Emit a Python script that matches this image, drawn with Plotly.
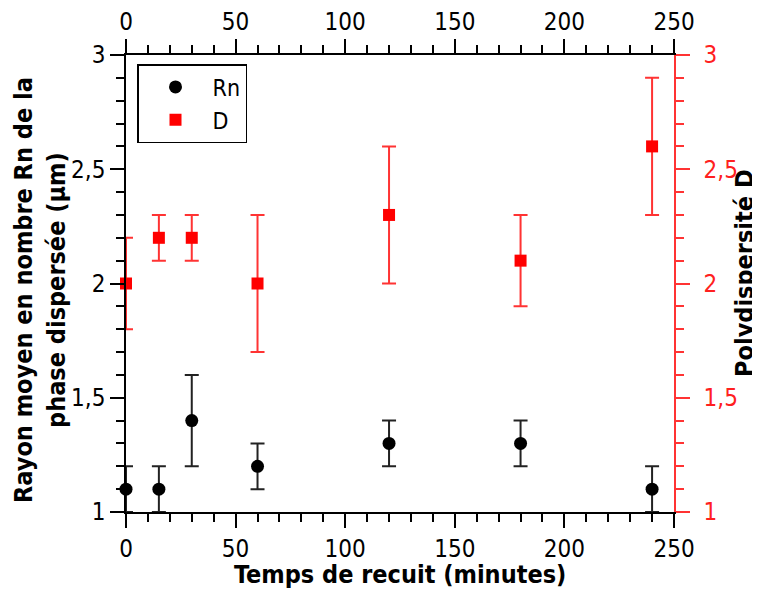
import plotly.graph_objects as go

temps = [0, 15, 30, 60, 120, 180, 240]
rn = [1.1, 1.1, 1.4, 1.2, 1.3, 1.3, 1.1]
rn_err = [0.1, 0.1, 0.2, 0.1, 0.1, 0.1, 0.1]
d = [2.0, 2.2, 2.2, 2.0, 2.3, 2.1, 2.6]
d_err = [0.2, 0.1, 0.1, 0.3, 0.3, 0.2, 0.3]

FONT = "Tahoma, 'DejaVu Sans Condensed', 'DejaVu Sans', sans-serif"
OFF = 8  # page body margin
W, H = 760 - OFF, 590 - OFF
L, R, T, B = 126 - OFF, 86, 55 - OFF, 78
PW, PH = W - L - R, H - T - B

def px(x):
    return (x - OFF - L) / PW

def py(y):
    return (H - B - (y - OFF)) / PH

fig = go.Figure()
fig.add_trace(go.Scatter(
    x=temps, y=rn, mode="markers", name="Rn",
    marker=dict(symbol="circle", size=13, color="black"),
    error_y=dict(type="data", array=rn_err, visible=True, color="#222222", thickness=2, width=7),
    cliponaxis=False, xaxis="x", yaxis="y"))
fig.add_trace(go.Scatter(
    x=temps, y=d, mode="markers", name="D",
    marker=dict(symbol="square", size=12, color="#ff0000"),
    error_y=dict(type="data", array=d_err, visible=True, color="#ff3333", thickness=2, width=7),
    cliponaxis=False, xaxis="x", yaxis="y2"))
fig.add_trace(go.Scatter(x=[0, 250], y=[None, None], mode="markers", showlegend=False,
                         hoverinfo="skip", xaxis="x2", yaxis="y"))

tickfont = dict(family=FONT, size=24, color="black")
titlefont = dict(family=FONT, size=25, color="black", weight="bold")

common_x = dict(range=[0, 250], dtick=50, tick0=0, ticks="outside", ticklen=14, tickwidth=1.5,
                tickcolor="black", showline=True, linecolor="black", linewidth=1.5,
                showgrid=False, zeroline=False, tickfont=tickfont, automargin=False,
                minor=dict(dtick=10, ticks="outside", ticklen=8, tickwidth=1.5, tickcolor="black", showgrid=False))

fig.update_layout(
    width=W, height=H,
    margin=dict(l=L, r=R, t=T, b=B, autoexpand=False),
    paper_bgcolor="white", plot_bgcolor="white",
    separators=", ",
    font=dict(family=FONT, color="black"),
    xaxis=dict(**common_x, side="bottom"),
    xaxis2=dict(**common_x, side="top", overlaying="x", anchor="y"),
    yaxis=dict(range=[1, 3], dtick=0.5, tick0=1, ticks="outside", ticklen=14, tickwidth=1.5,
               tickcolor="black", showline=True, linecolor="black", linewidth=1.5,
               showgrid=False, zeroline=False, tickfont=tickfont, automargin=False,
               minor=dict(dtick=0.1, ticks="outside", ticklen=8, tickwidth=1.5, tickcolor="black", showgrid=False)),
    yaxis2=dict(range=[1, 3], dtick=0.5, tick0=1, ticks="outside", ticklen=14, tickwidth=1.5,
                tickcolor="#ff3333", showline=True, linecolor="#ff3333", linewidth=1.5,
                showgrid=False, zeroline=False, overlaying="y", side="right", anchor="x",
                tickfont=dict(family=FONT, size=24, color="#ff2020"), automargin=False,
                ticklabelstandoff=9,
                minor=dict(dtick=0.1, ticks="outside", ticklen=8, tickwidth=1.5, tickcolor="#ff3333", showgrid=False)),
    legend=dict(x=px(137), y=py(64), xanchor="left", yanchor="top",
                bordercolor="black", borderwidth=1.5, bgcolor="white",
                font=dict(family=FONT, size=23, color="black"),
                itemwidth=64, tracegroupgap=0),
    showlegend=True,
    annotations=[
        dict(text="Temps de recuit (minutes)", xref="paper", yref="paper",
             x=px(400), y=py(574), xanchor="center", yanchor="middle",
             showarrow=False, font=titlefont),
        dict(text="Rayon moyen en nombre Rn de la<br>phase dispersée (µm)", xref="paper", yref="paper",
             x=px(40), y=py(290), xanchor="center", yanchor="middle", textangle=-90,
             showarrow=False, font=titlefont),
        dict(text="Polydispersité D", xref="paper", yref="paper",
             x=px(744), y=py(273), xanchor="center", yanchor="middle", textangle=-90,
             showarrow=False, font=titlefont),
    ],
)

fig.write_html("out.html")
